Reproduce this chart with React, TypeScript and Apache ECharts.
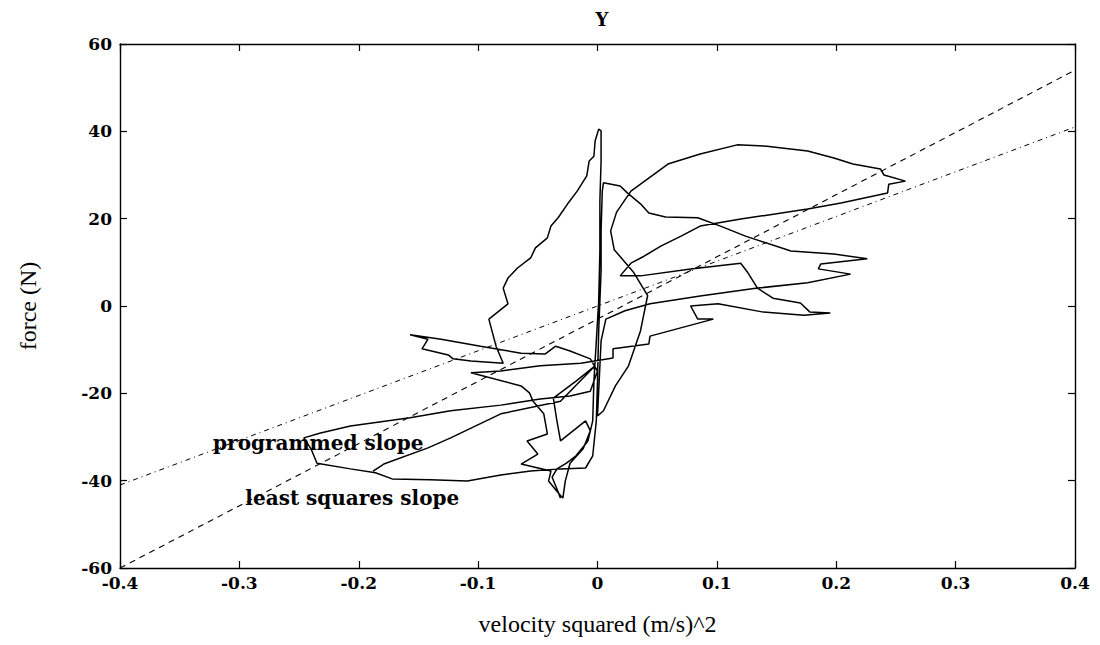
import React, { useEffect, useRef } from "react";
import * as echarts from "echarts";

const chartTitle = "Y";
const xName = "velocity squared (m/s)^2";
const yName = "force (N)";

// measured trajectory: [velocity squared, force]
const trajectory: [number, number][] = [
  [-0.031, -44.0], [-0.034, -41.9], [-0.038, -39.2], [-0.034, -37.3], [-0.026, -36.0],
  [-0.018, -34.3], [-0.008, -30.9], [-0.004, -26.3], [-0.003, -17.2], [-0.001, -8.0],
  [0.001, 1.1], [0.002, 12.6], [0.002, 24.0], [0.003, 33.2], [0.003, 40.1],
  [0.001, 40.5], [-0.002, 37.8], [-0.003, 34.3], [-0.007, 33.2], [-0.009, 29.8],
  [-0.017, 26.3], [-0.025, 23.4], [-0.033, 20.2], [-0.039, 18.3], [-0.042, 15.6],
  [-0.052, 13.3], [-0.056, 11.0], [-0.067, 8.7], [-0.075, 6.4], [-0.079, 4.1],
  [-0.075, 0.5], [-0.091, -3.0], [-0.085, -9.2], [-0.079, -13.1], [-0.106, -12.6],
  [-0.121, -12.1], [-0.125, -11.2], [-0.147, -9.8], [-0.142, -7.6], [-0.157, -6.6],
  [-0.131, -7.6], [-0.098, -9.2], [-0.064, -10.8], [-0.044, -11.0], [-0.035, -9.2],
  [-0.023, -10.3], [-0.006, -12.1], [0.0, -14.9], [-0.006, -19.5], [-0.023, -20.6],
  [-0.048, -21.3], [-0.081, -22.7], [-0.123, -24.0], [-0.157, -25.6], [-0.207, -27.5],
  [-0.232, -29.1], [-0.246, -30.2], [-0.24, -32.7], [-0.235, -36.0], [-0.207, -37.3],
  [-0.186, -38.2], [-0.172, -39.6], [-0.14, -39.8], [-0.109, -40.1], [-0.081, -38.7],
  [-0.056, -37.8], [-0.031, -37.3], [-0.01, -37.1], [-0.004, -34.3], [-0.001, -26.3],
  [0.0, -17.2], [0.001, -5.7], [0.002, 1.1], [0.003, 8.0], [0.003, 17.2],
  [0.004, 26.3], [0.005, 28.2], [0.019, 27.5], [0.025, 25.9], [0.036, 23.4],
  [0.043, 21.3], [0.057, 20.4], [0.084, 20.2], [0.103, 18.3], [0.124, 16.0],
  [0.162, 12.6], [0.198, 11.9], [0.226, 10.8], [0.187, 9.6], [0.185, 8.5],
  [0.212, 7.3], [0.176, 5.3], [0.134, 4.1], [0.086, 2.3], [0.044, 0.5],
  [0.023, -1.1], [0.007, -3.0], [0.003, -8.0], [0.001, -19.5], [0.0, -25.2],
  [0.005, -24.0], [0.015, -18.3], [0.026, -13.7], [0.036, -5.7], [0.042, 2.4],
  [0.03, 7.8], [0.014, 12.9], [0.011, 17.2], [0.016, 21.5], [0.028, 26.3], [0.059, 32.5],
  [0.086, 34.8], [0.117, 36.9], [0.142, 36.6], [0.176, 35.5], [0.198, 33.9],
  [0.214, 32.5], [0.237, 31.4], [0.24, 30.0], [0.258, 28.6], [0.244, 27.9],
  [0.243, 25.9], [0.204, 23.6], [0.176, 22.2], [0.12, 19.9], [0.086, 18.3],
  [0.07, 16.0], [0.053, 13.7], [0.039, 11.4], [0.028, 9.8], [0.019, 6.9],
  [0.036, 6.9], [0.078, 8.5], [0.12, 9.8], [0.126, 7.6], [0.134, 4.1],
  [0.147, 1.8], [0.17, 0.7], [0.178, -1.4], [0.195, -1.6], [0.173, -2.1],
  [0.139, -1.4], [0.101, 0.5], [0.078, 0.0], [0.084, -3.0], [0.097, -3.0],
  [0.044, -6.9], [0.043, -8.7], [0.013, -9.8], [0.013, -11.9], [-0.014, -13.1],
  [-0.048, -13.7], [-0.081, -14.9], [-0.106, -15.3], [-0.064, -18.3], [-0.057, -19.9],
  [-0.054, -21.8], [-0.045, -24.7], [-0.042, -29.3], [-0.059, -30.9], [-0.05, -33.9],
  [-0.064, -36.2], [-0.039, -37.8], [-0.041, -40.1], [-0.034, -42.4], [-0.029, -44.0],
  [-0.027, -40.1], [-0.023, -36.0], [-0.012, -32.7], [-0.006, -28.6], [-0.01, -26.3],
  [-0.031, -30.9], [-0.034, -26.3], [-0.037, -21.1], [-0.018, -17.2], [-0.002, -13.7],
  [-0.031, -21.8], [-0.081, -24.7], [-0.123, -30.2], [-0.142, -32.5], [-0.179, -36.2],
  [-0.188, -37.8],
];

const leastSquaresLine: [number, number][] = [[-0.4, -60], [0.4, 54]];
const programmedLine: [number, number][] = [[-0.4, -41], [0.4, 41]];

const programmedLabel = { text: "programmed slope", at: [-0.322, -31.4] };
const leastSquaresLabel = { text: "least squares slope", at: [-0.295, -44.0] };

const xRange = { min: -0.4, max: 0.4, interval: 0.1 };
const yRange = { min: -60, max: 60, interval: 20 };

const tickFont = { fontFamily: "DejaVu Serif", fontWeight: "bold" as const, fontSize: 17, color: "#000" };

export default function App() {
  const ref = useRef<HTMLDivElement>(null);
  useEffect(() => {
    if (!ref.current) return;
    const chart = echarts.init(ref.current, undefined, { renderer: "svg" });
    const axisLine = { show: true, onZero: false, lineStyle: { color: "#000", width: 1.4 } };
    const tick = { show: true, inside: true, length: 7, lineStyle: { color: "#000", width: 1.2 } };
    const fmtX = (v: number) => (Math.abs(v) < 1e-9 ? "0" : v.toFixed(1));
    const labelStyle = {
      show: true,
      position: "right" as const,
      distance: 0,
      fontFamily: "DejaVu Serif",
      fontWeight: "bold" as const,
      fontSize: 20,
      color: "#000",
    };
    chart.setOption({
      animation: false,
      backgroundColor: "#fff",
      title: {
        text: chartTitle,
        left: 597,
        top: 5,
        textAlign: "center",
        textStyle: { fontFamily: "DejaVu Serif", fontWeight: "bold", fontSize: 18, color: "#000" },
      },
      grid: { left: 120, right: 25, top: 44, bottom: 77 },
      xAxis: [
        {
          type: "value", ...xRange, position: "bottom",
          axisLine, axisTick: tick, splitLine: { show: false },
          axisLabel: { ...tickFont, margin: 6, formatter: fmtX },
          name: xName, nameLocation: "middle", nameGap: 44,
          nameTextStyle: { fontFamily: "Liberation Serif", fontSize: 24, color: "#000" },
        },
        {
          type: "value", ...xRange, position: "top",
          axisLine, axisTick: tick, axisLabel: { show: false }, splitLine: { show: false },
        },
      ],
      yAxis: [
        {
          type: "value", ...yRange, position: "left",
          axisLine, axisTick: tick, splitLine: { show: false },
          axisLabel: { ...tickFont, margin: 8 },
          name: yName, nameLocation: "middle", nameGap: 80, nameRotate: 90,
          nameTextStyle: { fontFamily: "Liberation Serif", fontSize: 24, color: "#000" },
        },
        {
          type: "value", ...yRange, position: "right",
          axisLine, axisTick: tick, axisLabel: { show: false }, splitLine: { show: false },
        },
      ],
      series: [
        {
          type: "line", data: trajectory, showSymbol: false, symbol: "none",
          lineStyle: { color: "#000", width: 1.5 }, clip: true, z: 3,
        },
        {
          type: "line", data: leastSquaresLine, showSymbol: false, symbol: "none",
          lineStyle: { color: "#000", width: 1.1, type: [6, 5] }, z: 2,
          markPoint: {
            symbol: "circle", symbolSize: 0,
            data: [{ coord: leastSquaresLabel.at, label: { ...labelStyle, formatter: leastSquaresLabel.text } }],
          },
        },
        {
          type: "line", data: programmedLine, showSymbol: false, symbol: "none",
          lineStyle: { color: "#000", width: 1, type: [5, 4, 1, 4] }, z: 2,
          markPoint: {
            symbol: "circle", symbolSize: 0,
            data: [{ coord: programmedLabel.at, label: { ...labelStyle, formatter: programmedLabel.text } }],
          },
        },
      ],
    });
    return () => chart.dispose();
  }, []);
  return <div ref={ref} style={{ width: 1100, height: 645, margin: -8 }} />;
}
